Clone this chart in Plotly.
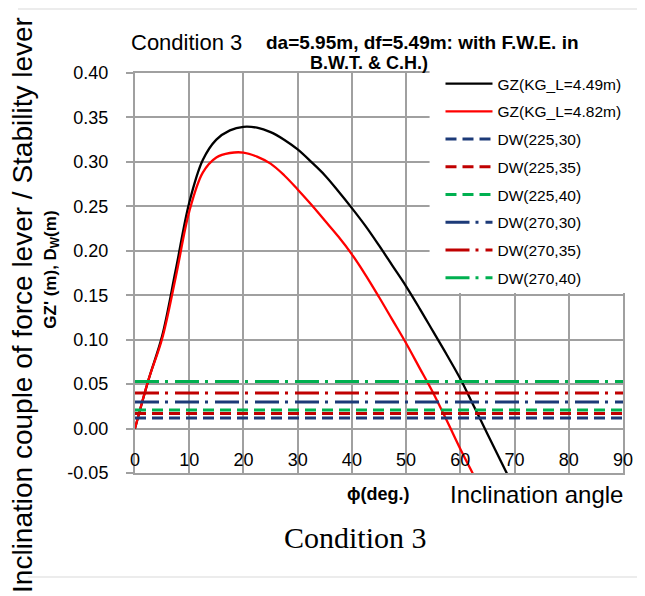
import plotly.graph_objects as go

# ---- data ----
phi = [0, 2.5, 5, 7.5, 10, 12.5, 15, 17.5, 20, 22.5, 25, 27.5, 30, 32.5, 35, 37.5, 40, 42.5, 45,
       47.5, 50, 52.5, 55, 57.5, 60, 62.5, 65, 67.5, 70]
gz_449 = [0, 0.055, 0.104, 0.178, 0.254, 0.302, 0.325, 0.3355, 0.3395, 0.3385, 0.3335, 0.325, 0.314,
          0.300, 0.285, 0.267, 0.248, 0.228, 0.206, 0.183, 0.160, 0.135, 0.109, 0.083, 0.056, 0.025,
          -0.006, -0.037, -0.068]
gz_482 = [0, 0.055, 0.101, 0.170, 0.244, 0.288, 0.305, 0.310, 0.3105, 0.306, 0.298, 0.285, 0.269,
          0.252, 0.234, 0.216, 0.196, 0.173, 0.148, 0.122, 0.096, 0.068, 0.040, 0.009, -0.023, -0.053,
          -0.083, -0.113, -0.143]

dw_names = ["DW(225,30)", "DW(225,35)", "DW(225,40)", "DW(270,30)", "DW(270,35)", "DW(270,40)"]
dw_values = [0.012, 0.017, 0.021, 0.030, 0.040, 0.053]
dw_colors = ["#1C3A78", "#C00000", "#00B050", "#1C3A78", "#C00000", "#00B050"]
dw_dash = ["11px,6px", "11px,6px", "11px,6px", "24px,6px,3px,7px", "24px,6px,3px,7px", "24px,6px,3px,7px"]
dw_x = [0, 90]

x_ticks = [0, 10, 20, 30, 40, 50, 60, 70, 80, 90]
x_ticktext = ["0", "10", "20", "30", "40", "50", "60", "70", "80", "90"]
y_ticks = [-0.05, 0.0, 0.05, 0.10, 0.15, 0.20, 0.25, 0.30, 0.35, 0.40]
y_ticktext = ["-0.05", "0.00", "0.05", "0.10", "0.15", "0.20", "0.25", "0.30", "0.35", "0.40"]

FONT = "Liberation Sans, Arial, sans-serif"
GRID = "#a0a0a0"

fig = go.Figure()
fig.add_trace(go.Scatter(x=phi, y=gz_449, mode="lines", name="GZ(KG_L=4.49m)",
                         line=dict(color="#000000", width=2.3, shape="spline", smoothing=1.0),
                         legendgroup="a"))
fig.add_trace(go.Scatter(x=phi, y=gz_482, mode="lines", name="GZ(KG_L=4.82m)",
                         line=dict(color="#FF0000", width=2.3, shape="spline", smoothing=1.0),
                         legendgroup="b"))
for i, (n, v, c, d) in enumerate(zip(dw_names, dw_values, dw_colors, dw_dash)):
    fig.add_trace(go.Scatter(x=dw_x, y=[v, v], mode="lines", name=n,
                             line=dict(color=c, width=3, dash=d), legendgroup="g%d" % i))

# page has an 8px body margin: figure is 637x588 placed at (8, 8)
L, R, T, B = 127, 18, 65, 123
W, H = 637, 588
pw, ph = W - L - R, H - T - B


def px(x):  # x in page pixels -> paper
    return (x - 135) / pw


def py(y):  # y in page pixels -> paper
    return (473 - y) / ph


fig.update_layout(
    width=W, height=H,
    margin=dict(l=L, r=R, t=T, b=B, pad=0),
    paper_bgcolor="white", plot_bgcolor="white",
    font=dict(family=FONT, color="#000000"),
    showlegend=True,
    legend=dict(x=px(443), y=py(73) + 0.015, xanchor="left", yanchor="top",
                bgcolor="rgba(0,0,0,0)", font=dict(size=15.5, family=FONT),
                tracegroupgap=4.6, itemwidth=47),
    xaxis=dict(range=[0, 90], tickvals=x_ticks, ticktext=x_ticktext,
               showgrid=True, gridcolor=GRID, gridwidth=1.5,
               showline=True, linecolor=GRID, linewidth=2, mirror=True,
               ticks="", tickfont=dict(size=18, family=FONT, color="#000"),
               ticklabelstandoff=-31, zeroline=False),
    yaxis=dict(range=[-0.05, 0.40], tickvals=y_ticks, ticktext=y_ticktext,
               showgrid=True, gridcolor=GRID, gridwidth=1.5,
               showline=True, linecolor=GRID, linewidth=2, mirror=True,
               ticks="outside", ticklen=7, tickcolor=GRID, tickwidth=1.5,
               tickfont=dict(size=18, family=FONT, color="#000"),
               ticklabelstandoff=14, zeroline=False),
)

# white box behind legend
fig.add_shape(type="rect", xref="paper", yref="paper", x0=px(432), x1=px(650), y0=py(293), y1=py(60),
              fillcolor="white", line=dict(width=0), layer="above")
# light frame lines
fig.add_shape(type="line", xref="paper", yref="paper", x0=px(17), x1=px(650), y0=py(9), y1=py(9),
              line=dict(color="#e6e6e6", width=1.5), layer="below")
fig.add_shape(type="line", xref="paper", yref="paper", x0=px(27), x1=px(650), y0=py(577), y1=py(577),
              line=dict(color="#e6e6e6", width=1.5), layer="below")

ann = []
ann.append(dict(text="Inclination couple of force lever / Stability lever", x=px(21), y=py(305),
                textangle=-90, font=dict(size=28, family=FONT, color="#000")))
ann.append(dict(text="<b>GZ' (m), D<sub>W</sub>(m)</b>", x=px(51), y=py(270),
                textangle=-90, font=dict(size=17, family=FONT, color="#000")))
ann.append(dict(text="Condition 3", x=px(187), y=py(42), font=dict(size=22, family=FONT, color="#000")))
ann.append(dict(text="<b>da=5.95m, df=5.49m: with F.W.E. in</b>", x=px(265), y=py(42), xanchor="left",
                font=dict(size=19, family=FONT, color="#000")))
ann.append(dict(text="<b>B.W.T. &amp; C.H.)</b>", x=px(371), y=py(63),
                font=dict(size=18, family=FONT, color="#000")))
ann.append(dict(text="<b>ϕ(deg.)</b>", x=px(380), y=py(494), font=dict(size=18, family=FONT, color="#000")))
ann.append(dict(text="Inclination angle", x=px(540), y=py(494), font=dict(size=24, family=FONT, color="#000")))
ann.append(dict(text="Condition 3", x=px(357), y=py(537),
                font=dict(size=30, family="Liberation Serif, DejaVu Serif, serif", color="#000")))
for a in ann:
    a.update(xref="paper", yref="paper", showarrow=False)
    a.setdefault("xanchor", "center")
    a.setdefault("yanchor", "middle")
fig.update_layout(annotations=ann)

fig.write_html("out.html")
